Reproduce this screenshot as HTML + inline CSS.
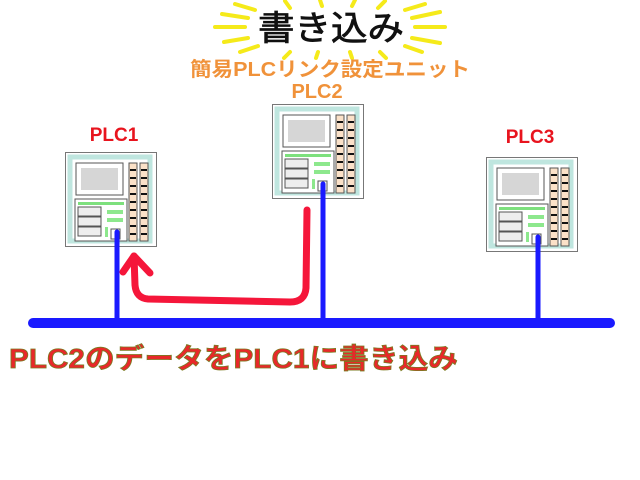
<!DOCTYPE html><html><head><meta charset="utf-8"><style>body{margin:0;background:#fff}svg{display:block}</style></head><body>
<svg width="640" height="480" xmlns="http://www.w3.org/2000/svg" font-family="'Liberation Sans','Noto Sans CJK JP',sans-serif">
<defs>
<g id="plc">
<rect x="0.5" y="0.5" width="91" height="94" fill="#fff" stroke="#777"/>
<rect x="5" y="5" width="80" height="84" fill="none" stroke="#bfe6df" stroke-width="5"/>
<rect x="11" y="11" width="47" height="32" fill="#fff" stroke="#555"/>
<rect x="16" y="16" width="37" height="22" fill="#ccc" opacity="0.8"/>
<rect x="10" y="47" width="52" height="42" fill="#fff" stroke="#555"/>
<rect x="13" y="50" width="46" height="3" fill="#7de07d"/>
<rect x="42" y="58" width="16" height="4" fill="#8de88d"/>
<rect x="42" y="66" width="16" height="4" fill="#8de88d"/>
<rect x="40" y="75" width="3" height="10" fill="#8de88d"/>
<rect x="13" y="55" width="23" height="9" fill="#eee" stroke="#555"/>
<rect x="13" y="65" width="23" height="9" fill="#eee" stroke="#555"/>
<rect x="13" y="75" width="23" height="9" fill="#eee" stroke="#555"/>
<rect x="46" y="77" width="9" height="10" fill="#fff" stroke="#555"/>
<rect x="64" y="11" width="8" height="78" fill="#fbe1c8" stroke="#555"/>
<rect x="75" y="11" width="8" height="78" fill="#fbe1c8" stroke="#555"/>
<g fill="#111">
<rect x="65" y="17" width="6" height="2"/><rect x="76" y="17" width="6" height="2"/>
<rect x="65" y="25" width="6" height="2"/><rect x="76" y="25" width="6" height="2"/>
<rect x="65" y="33" width="6" height="2"/><rect x="76" y="33" width="6" height="2"/>
<rect x="65" y="41" width="6" height="2"/><rect x="76" y="41" width="6" height="2"/>
<rect x="65" y="49" width="6" height="2"/><rect x="76" y="49" width="6" height="2"/>
<rect x="65" y="57" width="6" height="2"/><rect x="76" y="57" width="6" height="2"/>
<rect x="65" y="65" width="6" height="2"/><rect x="76" y="65" width="6" height="2"/>
<rect x="65" y="73" width="6" height="2"/><rect x="76" y="73" width="6" height="2"/>
<rect x="65" y="81" width="6" height="2"/><rect x="76" y="81" width="6" height="2"/>
</g>
</g>
</defs>
<g stroke="#f5ea1a" stroke-width="4" stroke-linecap="round">
<line x1="215" y1="27" x2="245" y2="27"/><line x1="222" y1="14" x2="248" y2="18"/><line x1="224" y1="42" x2="248" y2="38"/>
<line x1="235" y1="4" x2="255" y2="10"/><line x1="240" y1="52" x2="258" y2="46"/>
<line x1="415" y1="27" x2="445" y2="27"/><line x1="412" y1="18" x2="440" y2="12"/><line x1="412" y1="38" x2="440" y2="43"/>
<line x1="405" y1="10" x2="425" y2="4"/><line x1="405" y1="46" x2="422" y2="52"/>
<line x1="285" y1="1" x2="290" y2="8"/><line x1="320" y1="0" x2="322" y2="6"/><line x1="355" y1="0" x2="352" y2="6"/><line x1="385" y1="1" x2="378" y2="8"/>
<line x1="290" y1="52" x2="284" y2="58"/><line x1="318" y1="52" x2="316" y2="58"/><line x1="350" y1="52" x2="352" y2="58"/><line x1="380" y1="52" x2="386" y2="58"/>
</g>
<text x="258" y="40" font-size="34" textLength="146" lengthAdjust="spacingAndGlyphs" fill="#111" stroke="#111" stroke-width="0.8">書き込み</text>
<text x="190" y="76" font-size="20" font-weight="bold" textLength="280" lengthAdjust="spacingAndGlyphs" fill="#f0923a">簡易PLCリンク設定ユニット</text>
<text x="317" y="98" font-size="20" font-weight="bold" text-anchor="middle" fill="#f0923a">PLC2</text>
<text x="114" y="141" font-size="19" font-weight="bold" text-anchor="middle" fill="#e8141e">PLC1</text>
<text x="530" y="143" font-size="19" font-weight="bold" text-anchor="middle" fill="#e8141e">PLC3</text>
<use href="#plc" x="65" y="152"/>
<use href="#plc" x="272" y="104"/>
<use href="#plc" x="486" y="157"/>
<g stroke="#1a1aff" stroke-linecap="round">
<line x1="33" y1="323" x2="610" y2="323" stroke-width="10"/>
<line x1="117" y1="232" x2="117" y2="323" stroke-width="5"/>
<line x1="323" y1="184" x2="323" y2="323" stroke-width="5"/>
<line x1="538" y1="237" x2="538" y2="323" stroke-width="5"/>
</g>
<g stroke="#f5163a" stroke-width="7" fill="none" stroke-linecap="round" stroke-linejoin="round">
<path d="M307 210 L306 288 Q305 302 290 302 L148 299 Q136 298 135 285 L134 256"/>
<path d="M123 272 L134 256 L150 273"/>
</g>
<text x="9" y="368" font-size="28" font-weight="bold" textLength="449" lengthAdjust="spacingAndGlyphs" fill="#e8282a" stroke="#7a7a20" stroke-width="0.8">PLC2のデータをPLC1に書き込み</text>
</svg>
</body></html>
